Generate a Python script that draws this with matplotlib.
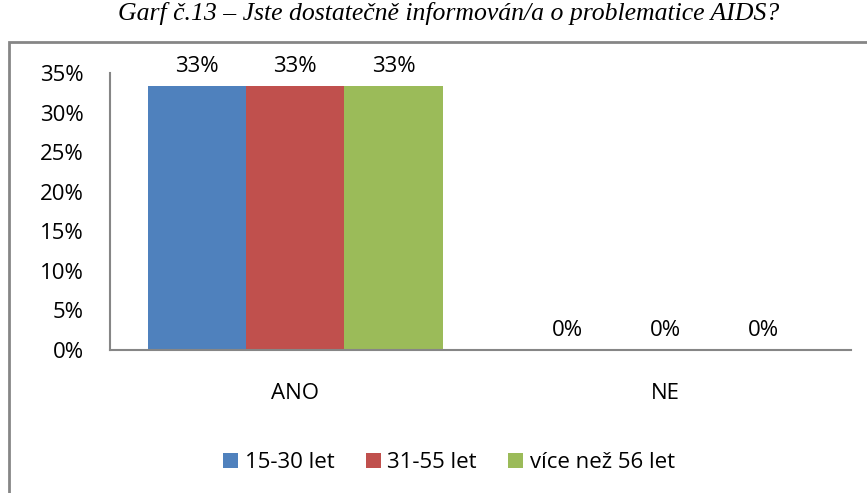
import matplotlib.pyplot as plt
import numpy as np
from matplotlib.patches import Rectangle

categories = ["ANO", "NE"]
series_names = ["15-30 let", "31-55 let", "více než 56 let"]
series_values = [
    [33.33, 0.0],
    [33.33, 0.0],
    [33.33, 0.0],
]
series_labels = [
    ["33%", "0%"],
    ["33%", "0%"],
    ["33%", "0%"],
]
colors = ["#4F81BD", "#C0504D", "#9BBB59"]
yticks = [0, 5, 10, 15, 20, 25, 30, 35]

plt.rcParams["font.family"] = ["Open Sans", "DejaVu Sans"]
FS = 16

fig = plt.figure(figsize=(8.67, 4.93), dpi=100)
ax = fig.add_axes([0.1269, 0.2901, 0.8546, 0.5619])

x = np.arange(len(categories))
width = 0.265
for i, (name, vals, labels) in enumerate(zip(series_names, series_values, series_labels)):
    pos = x + (i - 1) * width
    ax.bar(pos, vals, width=width, color=colors[i], label=name)
    for px, v, lab in zip(pos, vals, labels):
        ax.text(px, v + 1.1, lab, ha="center", va="bottom", fontsize=FS)

ax.set_xlim(-0.5, 1.5)
ax.set_ylim(0, 35)
ax.set_yticks(yticks)
ax.set_yticklabels([f"{t}%" for t in yticks], fontsize=FS)
ax.set_xticks(x)
ax.set_xticklabels(categories, fontsize=FS)
ax.tick_params(axis="x", length=0, pad=24)
ax.tick_params(axis="y", length=0, pad=19)
for side in ("top", "right"):
    ax.spines[side].set_visible(False)
for side in ("left", "bottom"):
    ax.spines[side].set_color("#868686")
    ax.spines[side].set_linewidth(1.5)

fig.legend(loc="center", bbox_to_anchor=(0.518, 0.061), ncol=3, frameon=False,
           fontsize=FS, handlelength=0.68, handleheight=0.68, handletextpad=0.3,
           columnspacing=1.4)

# outer chart frame
frame = Rectangle((9 / 867, -0.05), 1.1, 1 - 42 / 493 + 0.05, transform=fig.transFigure,
                  fill=False, edgecolor="#868686", linewidth=2, clip_on=False)
fig.add_artist(frame)

fig.text(0.517, 0.972, "Garf č.13 – Jste dostatečně informován/a o problematice AIDS?",
         ha="center", va="center", fontsize=18.5, style="italic",
         family=["Liberation Serif", "DejaVu Serif"])

fig.savefig("out.png", dpi=100)
